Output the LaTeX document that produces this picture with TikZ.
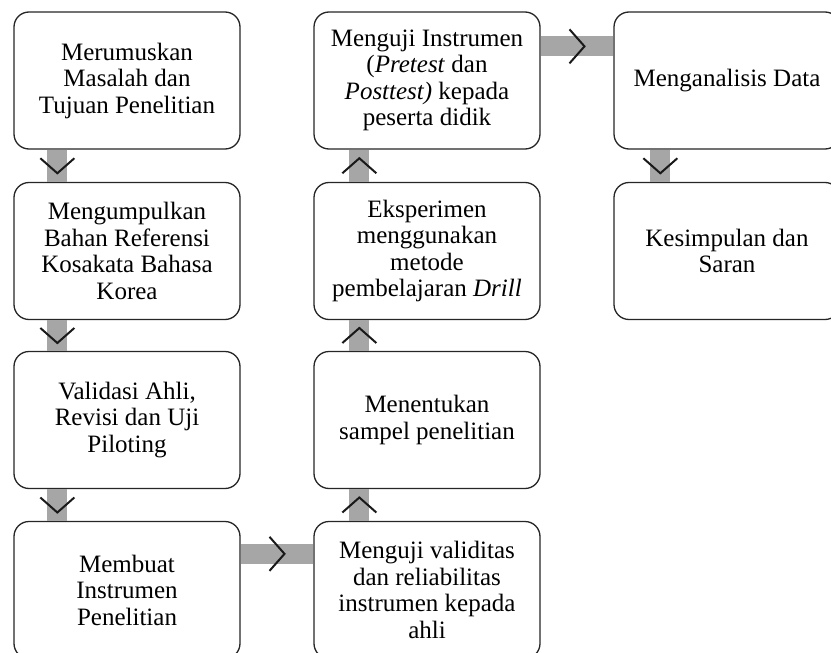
\documentclass[tikz,border=0pt]{standalone}
\usepackage{fontspec}
\setmainfont{Liberation Serif}
\usetikzlibrary{decorations.markings}
\definecolor{linkgray}{HTML}{A6A6A6}

\begin{document}
\begin{tikzpicture}[x=1pt, y=-1pt,
    stepbox/.style={rectangle, draw=black!85, line width=1.3pt, rounded corners=15pt, fill=white,
      minimum width=226pt, minimum height=137pt, align=center, inner sep=2pt,
      font=\fontsize{25}{26.5}\selectfont},
    chevron/.style={draw=black!90, line width=2pt},
    link/.style={draw=linkgray, line width=20pt,
      postaction={decorate, decoration={markings, mark=at position 0.5 with
        {\draw[chevron] (-7.5pt,17pt) -- (7.5pt,0pt) -- (-7.5pt,-17pt);}}}}]
    \useasboundingbox (0,0) rectangle (831,653);
    \clip (0,0) rectangle (831,653);

    % 左の列
    \node[stepbox] (A) at (127, 80.5) {Merumuskan\\Masalah dan\\Tujuan Penelitian};
    \node[stepbox] (B) at (127, 251) {Mengumpulkan\\Bahan Referensi\\Kosakata Bahasa\\Korea};
    \node[stepbox] (C) at (127, 420) {Validasi Ahli,\\Revisi dan Uji\\Piloting};
    \node[stepbox] (D) at (127, 590) {Membuat\\Instrumen\\Penelitian};

    % 中央の列
    \node[stepbox] (E) at (427, 590) {Menguji validitas\\dan reliabilitas\\instrumen kepada\\ahli};
    \node[stepbox] (F) at (427, 420) {Menentukan\\sampel penelitian};
    \node[stepbox] (G) at (427, 251) {Eksperimen\\menggunakan\\metode\\pembelajaran \textit{Drill}};
    \node[stepbox] (H) at (427, 80.5) {Menguji Instrumen\\(\textit{Pretest} dan\\\textit{Posttest)} kepada\\peserta didik};

    % 右の列
    \node[stepbox] (I) at (727, 80.5) {Menganalisis Data};
    \node[stepbox] (J) at (727, 251) {Kesimpulan dan\\Saran};

    \draw[link] ([xshift=44pt]A.south west) -- ([xshift=44pt]B.north west);
    \draw[link] ([xshift=44pt]B.south west) -- ([xshift=44pt]C.north west);
    \draw[link] ([xshift=44pt]C.south west) -- ([xshift=44pt]D.north west);
    \draw[link] ([yshift=-33pt]D.north east) -- ([yshift=-33pt]E.north west);
    \draw[link] ([xshift=46pt]E.north west) -- ([xshift=46pt]F.south west);
    \draw[link] ([xshift=46pt]F.north west) -- ([xshift=46pt]G.south west);
    \draw[link] ([xshift=46pt]G.north west) -- ([xshift=46pt]H.south west);
    \draw[link] ([yshift=-35pt]H.north east) -- ([yshift=-35pt]I.north west);
    \draw[link] ([xshift=47pt]I.south west) -- ([xshift=47pt]J.north west);

\end{tikzpicture}
\end{document}
